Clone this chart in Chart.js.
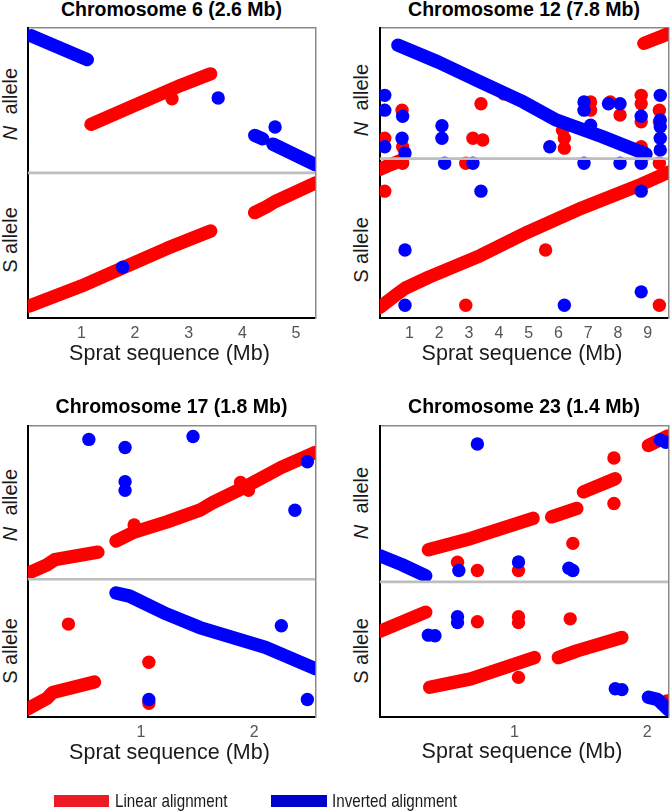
<!DOCTYPE html>
<html>
<head>
<meta charset="utf-8">
<script src="https://cdn.jsdelivr.net/npm/chart.js@4.4.0/dist/chart.umd.min.js"></script>
<style>
  body { margin:0; background:#fff; width:672px; height:811px; position:relative; overflow:hidden;
         font-family:"Liberation Sans", Arial, sans-serif; }
  canvas { position:absolute; }
  .t { position:absolute; white-space:nowrap; transform:translate(-50%,-50%); line-height:1; }
  .title { font-weight:bold; font-size:19.5px; color:#000; }
  .xt { font-size:21.5px; color:#1a1a1a; }
  .yl { font-size:20px; color:#1a1a1a; transform:translate(-50%,-50%) rotate(-90deg); }
  .lg { position:absolute; white-space:nowrap; line-height:1; font-size:19px; color:#1a1a1a;
        transform-origin:left center; transform:translateY(-50%) scaleX(0.8); }
  .sw { position:absolute; height:12px; }
</style>
</head>
<body>
<script>
// ---------------- DATA ----------------
const titles = ["Chromosome 6 (2.6 Mb)", "Chromosome 12 (7.8 Mb)", "Chromosome 17 (1.8 Mb)", "Chromosome 23 (1.4 Mb)"];
const xAxisTitle = "Sprat sequence (Mb)";
const yLabelN = "N";
const yLabelRest = "allele";
const yLabelS = "S allele";
const legendLabels = ["Linear alignment", "Inverted alignment"];

const xMin = [0, 0, 0, -0.017];
const xMax = [5.36, 9.69, 2.54, 2.16];
const dividerY = [50, 54.9, 47.3, 46.4];

const xTicks6 = [1, 2, 3, 4, 5];
const xTicks12 = [1, 2, 3, 4, 5, 6, 7, 8, 9];
const xTicks17 = [1, 2];
const xTicks23 = [1, 2];

// Chromosome 6
const chr6RedRuns = [
  [[1.18, 66.7], [1.97, 73.1], [2.86, 80.2], [3.41, 84.1]],
  [[0.03, 4.1], [1.0, 11.0], [1.77, 17.3], [2.6, 24.0], [3.41, 30.0]],
  [[4.23, 36.3], [4.45, 38.3], [4.6, 40.0], [5.36, 46.5]]
];
const chr6BlueRuns = [
  [[0.07, 97.2], [1.11, 89.0]],
  [[4.23, 62.9], [4.38, 61.7]],
  [[4.57, 59.9], [5.36, 52.8]]
];
const chr6RedPts = [[2.69, 75.5]];
const chr6BluePts = [[3.55, 75.8], [4.61, 65.8], [1.77, 17.5]];

// Chromosome 12
const chr12RedRuns = [
  [[0.0, 51.2], [0.4, 53.0], [0.75, 54.4]],
  [[0.0, 3.6], [0.5, 7.6], [0.86, 10.3], [1.65, 14.1], [3.38, 21.5], [4.97, 29.6], [6.81, 38.0], [8.78, 46.0], [9.69, 50.2]],
  [[8.87, 94.6], [9.69, 97.9]]
];
const chr12BlueRuns = [
  [[0.61, 94.0], [1.98, 88.1], [3.40, 81.2], [4.83, 74.4], [5.93, 68.2], [7.46, 62.5], [8.45, 58.5], [8.94, 56.5]]
];
const chr12RedPts = [
  [0.17, 61.9], [0.17, 43.7], [0.75, 71.6], [0.77, 59.0], [0.77, 53.3], [2.89, 53.3], [3.40, 73.8],
  [3.13, 61.9], [3.46, 61.3], [2.89, 4.4], [4.17, 77.2], [5.57, 23.4], [6.14, 64.7], [6.2, 61.9],
  [6.2, 58.5], [7.08, 74.4], [7.08, 71.6], [7.74, 74.4], [8.07, 69.9], [8.78, 76.7], [8.78, 73.8],
  [8.78, 67.6], [8.78, 59.0], [9.39, 71.6], [9.39, 67.6], [9.39, 53.3], [9.39, 4.4]
];
const chr12BluePts = [
  [0.17, 76.7], [0.17, 71.6], [0.17, 59.0], [0.77, 69.5], [0.75, 61.9], [0.85, 56.8], [0.85, 23.4],
  [0.85, 4.4], [2.09, 66.2], [2.09, 61.9], [2.18, 53.3], [3.13, 53.3], [3.40, 43.7], [5.71, 59.0],
  [6.2, 4.4], [6.86, 74.4], [6.86, 71.6], [6.86, 53.3], [7.08, 66.4], [7.68, 73.8], [8.07, 73.8],
  [8.07, 53.3], [8.78, 69.5], [8.78, 57.3], [8.78, 53.3], [8.78, 43.7], [8.78, 9.0], [9.42, 76.7],
  [9.42, 68.2], [9.42, 65.9], [9.42, 61.9], [9.42, 57.9]
];

// Chromosome 17
const chr17RedRuns = [
  [[0.0, 49.3], [0.17, 52.2], [0.24, 54.0], [0.62, 56.6]],
  [[0.78, 60.4], [0.94, 63.5], [1.23, 67.0], [1.52, 71.0], [1.63, 73.5], [1.92, 79.0], [2.24, 85.7], [2.54, 90.8]],
  [[0.0, 2.8], [0.17, 6.4], [0.22, 8.4], [0.59, 12.0]]
];
const chr17BlueRuns = [
  [[0.78, 42.6], [0.9, 41.5], [1.23, 35.3], [1.52, 30.7], [2.10, 23.9], [2.54, 16.6]]
];
const chr17RedPts = [[0.36, 31.9], [1.07, 18.8], [1.07, 4.7], [0.94, 65.9], [1.88, 80.5], [1.95, 77.8]];
const chr17BluePts = [
  [0.54, 95.3], [0.86, 92.5], [0.86, 80.8], [0.86, 77.8], [1.46, 96.3], [2.47, 87.6], [2.36, 71.0],
  [1.07, 6.0], [2.24, 31.3], [2.47, 6.0]
];

// Chromosome 23
const chr23RedRuns = [
  [[0.35, 57.4], [0.67, 61.3], [1.14, 68.2]],
  [[1.28, 68.7], [1.47, 71.6]],
  [[1.52, 77.3], [1.76, 81.8]],
  [[2.01, 93.2], [2.16, 96.5]],
  [[-0.017, 29.4], [0.33, 36.0]],
  [[0.36, 10.2], [0.67, 13.1], [1.15, 20.4]],
  [[1.33, 20.4], [1.47, 22.7], [1.81, 27.3]]
];
const chr23BlueRuns = [
  [[-0.017, 55.4], [0.15, 52.3], [0.33, 48.5]],
  [[2.01, 6.8], [2.08, 6.0], [2.16, 2.5]]
];
const chr23RedPts = [
  [1.75, 88.9], [1.75, 73.3], [1.44, 59.6], [0.57, 53.1], [0.72, 50.3], [1.03, 50.3], [0.72, 32.7],
  [1.03, 34.4], [1.03, 32.4], [1.42, 33.7], [1.03, 13.6], [2.15, 5.5]
];
const chr23BluePts = [
  [0.72, 93.7], [2.10, 95.1], [2.14, 94.3], [0.58, 50.3], [1.03, 53.2], [1.41, 51.1], [1.44, 50.3],
  [0.35, 28.1], [0.40, 27.9], [0.57, 34.4], [0.57, 32.4], [1.76, 9.7], [1.81, 9.4]
];

// ---------------- LAYOUT / STYLE ----------------
const RED = "#FF0000", BLUE = "#0000FF";
const FONT = "'Liberation Sans', Arial, sans-serif";
Chart.defaults.font.family = FONT;

const boxes = [
  { l: 25,  t: 25,  w: 293, h: 293, titleY: 10,  xtY: 354, nY: 104, sY: 240, ylX: 10 },
  { l: 377, t: 25,  w: 294, h: 293, titleY: 10,  xtY: 354, nY: 100, sY: 250, ylX: 361 },
  { l: 25,  t: 423, w: 293, h: 294, titleY: 407, xtY: 753, nY: 505, sY: 651, ylX: 10 },
  { l: 377, t: 423, w: 294, h: 294, titleY: 407, xtY: 752, nY: 503, sY: 651, ylX: 361 }
];

const panels = [
  { red: chr6RedRuns,  blue: chr6BlueRuns,  redPts: chr6RedPts,  bluePts: chr6BluePts,  ticks: xTicks6 },
  { red: chr12RedRuns, blue: chr12BlueRuns, redPts: chr12RedPts, bluePts: chr12BluePts, ticks: xTicks12 },
  { red: chr17RedRuns, blue: chr17BlueRuns, redPts: chr17RedPts, bluePts: chr17BluePts, ticks: xTicks17 },
  { red: chr23RedRuns, blue: chr23BlueRuns, redPts: chr23RedPts, bluePts: chr23BluePts, ticks: xTicks23 }
];

const M = 4, AXH = 30;
const toXY = arr => arr.map(p => ({ x: p[0], y: p[1] }));

function runDs(run, color, order) {
  return { data: toXY(run), showLine: true, borderColor: color, backgroundColor: color,
           borderWidth: 13.4, borderCapStyle: 'round', borderJoinStyle: 'round',
           pointRadius: 0, pointHoverRadius: 0, fill: false, tension: 0, clip: 0, order };
}
function ptsDs(pts, color, order) {
  return { data: toXY(pts), showLine: false, backgroundColor: color, borderColor: color,
           pointBackgroundColor: color, pointBorderWidth: 0, pointRadius: 6.7, pointHoverRadius: 6.7,
           clip: 0, order };
}

function addText(cls, html, x, y) {
  const d = document.createElement('div');
  d.className = 't ' + cls;
  d.innerHTML = html;
  d.style.left = x + 'px';
  d.style.top = y + 'px';
  document.body.appendChild(d);
}

panels.forEach((p, i) => {
  const b = boxes[i];
  const cv = document.createElement('canvas');
  cv.width = b.w + 2 * M;
  cv.height = b.h + M + AXH;
  cv.style.left = (b.l - M) + 'px';
  cv.style.top = (b.t - M) + 'px';
  document.body.appendChild(cv);

  const datasets = [];
  datasets.push({ data: [{ x: xMin[i], y: dividerY[i] }, { x: xMax[i], y: dividerY[i] }],
                  showLine: true, borderColor: '#BEBEBE', borderWidth: 2.6, pointRadius: 0,
                  pointHoverRadius: 0, fill: false, clip: 0, order: 0 });
  p.red.forEach(r => datasets.push(runDs(r, RED, 6)));
  datasets.push(ptsDs(p.redPts, RED, 5));
  p.blue.forEach(r => datasets.push(runDs(r, BLUE, 4)));
  datasets.push(ptsDs(p.bluePts, BLUE, 3));

  new Chart(cv, {
    type: 'scatter',
    data: { datasets },
    options: {
      responsive: false, animation: false, events: [],
      layout: { padding: { left: M, right: M, top: M, bottom: 0 } },
      plugins: { legend: { display: false }, tooltip: { enabled: false } },
      scales: {
        x: {
          type: 'linear', position: 'bottom', min: xMin[i], max: xMax[i], z: 1,
          afterFit: s => { s.height = AXH; },
          afterBuildTicks: s => { s.ticks = p.ticks.map(v => ({ value: v })); },
          ticks: { color: '#555', font: { size: 16, family: FONT }, padding: 6, autoSkip: false, maxRotation: 0 },
          grid: { display: false, drawTicks: false },
          border: { display: true, color: '#000', width: 2 }
        },
        x2: {
          type: 'linear', position: 'top', min: 0, max: 1, z: 1,
          afterFit: s => { s.height = 0; },
          ticks: { display: false }, grid: { display: false, drawTicks: false },
          border: { display: true, color: '#8a8a8a', width: 1.5 }
        },
        y: {
          type: 'linear', position: 'left', min: 0, max: 100, z: 1,
          afterFit: s => { s.width = 0; },
          ticks: { display: false }, grid: { display: false, drawTicks: false },
          border: { display: true, color: '#000', width: 2 }
        },
        y2: {
          type: 'linear', position: 'right', min: 0, max: 1, z: 1,
          afterFit: s => { s.width = 0; },
          ticks: { display: false }, grid: { display: false, drawTicks: false },
          border: { display: true, color: '#8a8a8a', width: 1.5 }
        }
      }
    }
  });

  addText('title', titles[i], b.l + b.w / 2, b.titleY);
  addText('xt', xAxisTitle, b.l + b.w / 2 - 2, b.xtY);
  addText('yl', '<i>' + yLabelN + '</i>&nbsp; ' + yLabelRest, b.ylX, b.nY);
  addText('yl', yLabelS, b.ylX, b.sY);
});

// legend
const legendItems = [
  { color: '#ED1C24', x: 54, w: 55, tx: 115 },
  { color: '#0000CC', x: 271, w: 56, tx: 332 }
];
legendItems.forEach((it, k) => {
  const sw = document.createElement('div');
  sw.className = 'sw';
  sw.style.left = it.x + 'px'; sw.style.top = '795px'; sw.style.width = it.w + 'px';
  sw.style.background = it.color;
  document.body.appendChild(sw);
  const tx = document.createElement('div');
  tx.className = 'lg';
  tx.textContent = legendLabels[k];
  tx.style.left = it.tx + 'px'; tx.style.top = '800px';
  document.body.appendChild(tx);
});
</script>
</body>
</html>
